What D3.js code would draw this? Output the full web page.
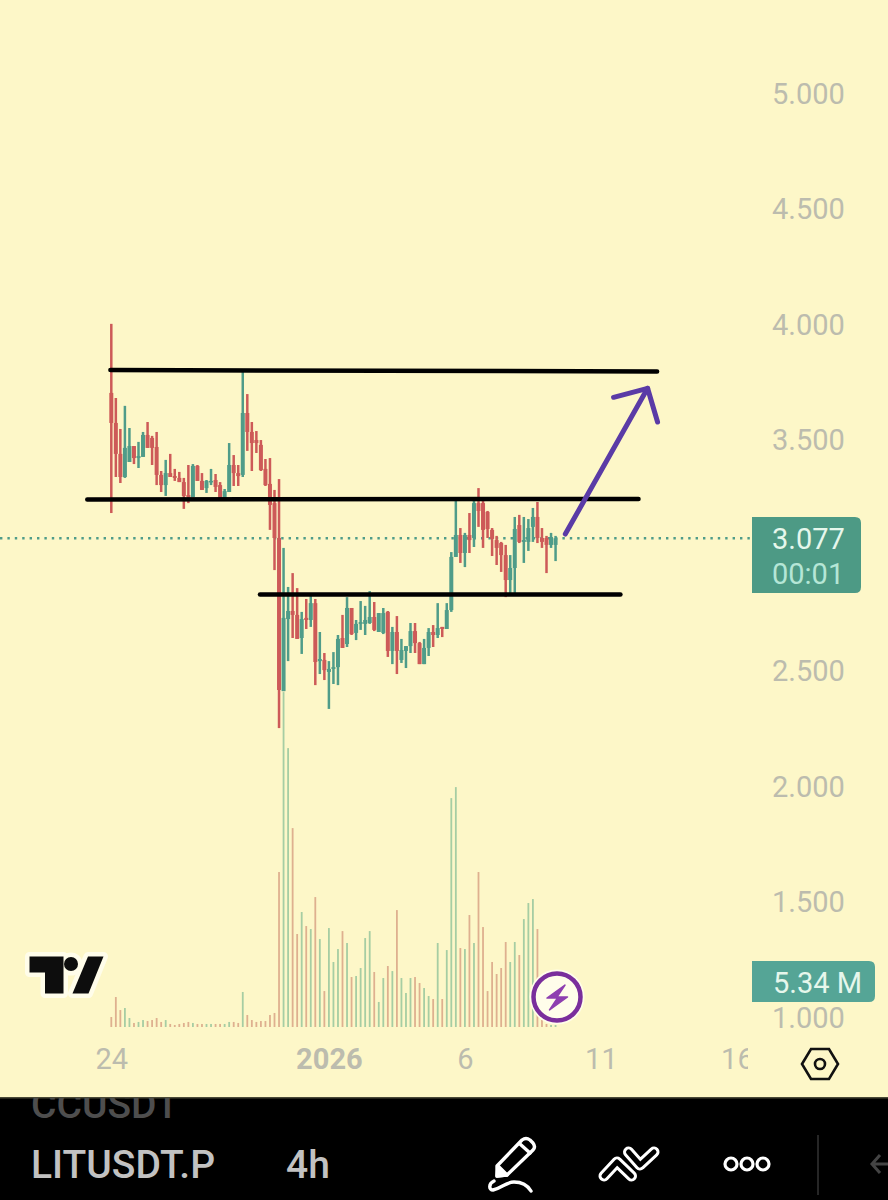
<!DOCTYPE html>
<html>
<head>
<meta charset="utf-8">
<script src="https://cdn.jsdelivr.net/npm/d3@7"></script>
<style>
    html, body { margin: 0; padding: 0; background: #fdf7c8; }
    svg { display: block; font-family: Roboto, sans-serif; }
</style>
</head>
<body>
<svg></svg>
<script>
// 4h candles of LITUSDT.P
const candleOpen = [3.706,3.576,3.442,3.342,3.407,3.476,3.424,3.429,3.524,3.511,3.472,3.351,3.307,3.359,3.346,3.338,3.320,3.264,3.255,3.390,3.325,3.294,3.320,3.329,3.307,3.242,3.277,3.394,3.359,3.351,3.619,3.537,3.502,3.481,3.377,3.312,3.229,3.078,2.415,2.727,2.762,2.745,2.645,2.732,2.723,2.796,2.545,2.550,2.498,2.511,2.519,2.645,2.619,2.775,2.667,2.706,2.706,2.710,2.736,2.671,2.667,2.758,2.589,2.671,2.550,2.589,2.610,2.675,2.623,2.532,2.602,2.671,2.658,2.693,2.684,2.766,2.996,3.091,3.013,3.091,3.078,3.229,3.229,3.191,3.113,3.069,3.056,3.004,2.896,2.948,3.134,3.061,3.061,3.126,3.169,3.078,3.078,3.048,3.048]
const candleHigh = [4.005,3.684,3.550,3.650,3.554,3.476,3.494,3.537,3.580,3.520,3.537,3.368,3.416,3.442,3.377,3.364,3.338,3.394,3.398,3.394,3.359,3.329,3.377,3.355,3.320,3.290,3.489,3.437,3.394,3.801,3.701,3.580,3.541,3.502,3.420,3.424,3.286,3.333,3.035,2.866,2.926,2.861,2.758,2.814,2.840,2.814,2.671,2.580,2.545,2.584,2.658,2.745,2.822,2.775,2.723,2.805,2.784,2.848,2.801,2.753,2.775,2.762,2.693,2.740,2.641,2.610,2.710,2.710,2.628,2.641,2.688,2.701,2.796,2.693,2.796,3.017,3.255,3.121,3.100,3.186,3.247,3.294,3.247,3.195,3.121,3.087,3.061,3.048,3.004,3.169,3.178,3.169,3.160,3.208,3.234,3.121,3.087,3.100,3.087]
const candleLow = [3.186,3.342,3.316,3.338,3.407,3.398,3.381,3.429,3.468,3.394,3.307,3.277,3.260,3.342,3.325,3.320,3.204,3.229,3.255,3.325,3.286,3.273,3.307,3.277,3.242,3.238,3.277,3.303,3.303,3.342,3.455,3.368,3.446,3.368,3.303,3.113,2.939,2.255,2.415,2.545,2.645,2.641,2.576,2.684,2.693,2.441,2.489,2.463,2.338,2.446,2.441,2.602,2.606,2.658,2.636,2.680,2.658,2.706,2.675,2.671,2.662,2.563,2.532,2.489,2.537,2.515,2.580,2.580,2.532,2.532,2.567,2.606,2.645,2.649,2.684,2.758,2.996,2.970,2.952,3.013,3.039,3.126,3.035,3.078,3.000,2.961,2.931,2.822,2.840,2.831,3.056,2.970,3.022,3.061,3.056,3.035,2.926,3.035,2.978]
const candleClose = [3.576,3.442,3.342,3.468,3.476,3.424,3.433,3.524,3.468,3.468,3.351,3.307,3.359,3.342,3.338,3.320,3.260,3.255,3.390,3.325,3.286,3.325,3.325,3.299,3.242,3.281,3.394,3.359,3.346,3.619,3.537,3.489,3.489,3.372,3.307,3.221,3.078,2.420,2.732,2.762,2.745,2.641,2.727,2.723,2.796,2.541,2.554,2.506,2.511,2.519,2.641,2.602,2.775,2.662,2.706,2.714,2.723,2.736,2.680,2.753,2.753,2.589,2.671,2.589,2.593,2.610,2.675,2.623,2.532,2.602,2.671,2.658,2.688,2.684,2.766,2.996,3.091,3.013,3.091,3.069,3.229,3.195,3.113,3.117,3.074,3.035,3.004,2.896,2.948,3.117,3.061,3.069,3.121,3.169,3.078,3.061,3.048,3.082,3.077]

// volume in millions, one per candle
const candleVolume = [1.19,3.57,2.02,2.26,1.07,0.48,0.60,0.83,0.71,0.83,1.07,0.60,0.83,0.36,0.24,0.36,0.48,0.60,0.48,0.36,0.36,0.36,0.36,0.36,0.36,0.36,0.60,0.60,0.48,4.17,1.43,0.83,0.60,0.71,0.71,1.43,1.67,18.45,39.87,33.20,23.68,11.07,13.69,12.02,11.66,15.47,10.47,4.28,11.78,7.74,9.28,11.42,10.00,5.95,6.07,7.02,10.59,11.42,6.55,2.98,5.83,7.26,6.66,13.92,5.83,4.05,5.83,5.95,5.24,4.64,3.69,3.33,10.00,3.33,9.16,27.25,28.56,9.40,9.28,13.33,10.00,18.45,11.90,4.28,7.74,6.31,7.02,10.12,7.74,10.12,8.57,12.85,14.76,15.23,11.66,0.83,0.36,0.24,0.24]

const priceTicks = [1, 1.5, 2, 2.5, 3.5, 4, 4.5, 5]
const timeTicks = [0, 48, 78, 108, 138]
const timeLabels = ["24", "2026", "6", "11", "16"]

const lastPrice = 3.077
const lastVolume = "5.34 M"
const countdown = "00:01"

// hand drawn support and resistance lines, [start candle, start price, end candle, end price]
const levelStart = [-0.2, -5.3, 32.8]
const levelEnd = [120.4, 116.3, 112.3]
const levelPriceStart = [3.805, 3.245, 2.833]
const levelPriceEnd = [3.799, 3.247, 2.833]

// purple arrow, tail then tip then the two barbs
const arrowCandle = [100.15, 118.3, 110.8, 120.5]
const arrowPrice = [3.095, 3.726, 3.687, 3.580]

const upColor = "#4f9c89"
const downColor = "#cd5a58"
const upVolume = "#a6cda3"
const downVolume = "#deb08f"
const labelColor = "#bcbcae"

const svg = d3.select("svg")
    .attr("width", 888)
    .attr("height", 1200)

const x = d3.scaleLinear().domain([0, 138]).range([111.3, 736.9])
const y = d3.scaleLinear().domain([1, 5]).range([1018, 94])
const volumeY = d3.scaleLinear().domain([0, 40]).range([1027, 691])

svg.append("rect")
    .attr("width", 888)
    .attr("height", 1200)
    .attr("fill", "#fdf7c8")

const defs = svg.append("defs")
defs.append("clipPath").attr("id", "time-clip")
    .append("rect").attr("x", 0).attr("y", 1040).attr("width", 748).attr("height", 50)
defs.append("clipPath").attr("id", "bar-clip")
    .append("rect").attr("x", 0).attr("y", 1098).attr("width", 888).attr("height", 102)

// price axis
const priceAxis = svg.append("g")
    .attr("transform", "translate(772, 0)")
    .call(d3.axisRight(y).tickValues(priceTicks).tickFormat(d3.format(".3f")).tickSize(0).tickPadding(0))
priceAxis.select(".domain").remove()
priceAxis.selectAll("text")
    .attr("fill", labelColor)
    .style("font-size", "29px")
    .style("font-family", "Roboto, sans-serif")

// time axis
const timeAxis = svg.append("g")
    .attr("clip-path", "url(#time-clip)")
    .append("g")
    .attr("transform", "translate(0, 1048)")
    .call(d3.axisBottom(x).tickValues(timeTicks).tickFormat((d, i) => timeLabels[i]).tickSize(0).tickPadding(0))
timeAxis.select(".domain").remove()
timeAxis.selectAll("text")
    .attr("fill", labelColor)
    .attr("dy", "0.72em")
    .style("font-size", "29px")
    .style("font-family", "Roboto, sans-serif")
    .style("font-weight", (d, i) => timeLabels[i] === "2026" ? "700" : "400")

// last price line
svg.append("line")
    .attr("x1", 0)
    .attr("x2", 752)
    .attr("y1", y(lastPrice))
    .attr("y2", y(lastPrice))
    .attr("stroke", upColor)
    .attr("stroke-width", 2.4)
    .attr("stroke-dasharray", "2.4 5")

// volume
svg.append("g")
    .selectAll("rect")
    .data(candleVolume)
    .join("rect")
    .attr("x", (d, i) => x(i) - 0.9)
    .attr("width", 1.8)
    .attr("y", d => volumeY(d))
    .attr("height", d => volumeY(0) - volumeY(d))
    .attr("fill", (d, i) => candleClose[i] >= candleOpen[i] ? upVolume : downVolume)

// candles
const candleColor = (d, i) => candleClose[i] >= candleOpen[i] ? upColor : downColor

svg.append("g")
    .selectAll("line")
    .data(candleOpen)
    .join("line")
    .attr("x1", (d, i) => x(i))
    .attr("x2", (d, i) => x(i))
    .attr("y1", (d, i) => y(candleHigh[i]))
    .attr("y2", (d, i) => y(candleLow[i]))
    .attr("stroke", candleColor)
    .attr("stroke-width", 2.5)

svg.append("g")
    .selectAll("rect")
    .data(candleOpen)
    .join("rect")
    .attr("x", (d, i) => x(i) - 2)
    .attr("width", 4)
    .attr("y", (d, i) => y(Math.max(d, candleClose[i])))
    .attr("height", (d, i) => Math.max(1.5, Math.abs(y(d) - y(candleClose[i]))))
    .attr("fill", candleColor)

// drawn levels
svg.append("g")
    .selectAll("line")
    .data(levelStart)
    .join("line")
    .attr("x1", d => x(d))
    .attr("x2", (d, i) => x(levelEnd[i]))
    .attr("y1", (d, i) => y(levelPriceStart[i]))
    .attr("y2", (d, i) => y(levelPriceEnd[i]))
    .attr("stroke", "#000")
    .attr("stroke-width", 4.5)
    .attr("stroke-linecap", "round")

// drawn arrow
const arrowLine = d3.line()
    .x(i => x(arrowCandle[i]))
    .y(i => y(arrowPrice[i]))

svg.append("g")
    .attr("fill", "none")
    .attr("stroke", "#5a3ba6")
    .attr("stroke-width", 5)
    .attr("stroke-linecap", "round")
    .attr("stroke-linejoin", "round")
    .selectAll("path")
    .data([[0, 1], [2, 1, 3]])
    .join("path")
    .attr("d", arrowLine)

// last price and volume tags
const tagPath = (left, top, right, bottom) => {
    const p = d3.path()
    p.moveTo(left, top)
    p.lineTo(right - 6, top)
    p.quadraticCurveTo(right, top, right, top + 6)
    p.lineTo(right, bottom - 6)
    p.quadraticCurveTo(right, bottom, right - 6, bottom)
    p.lineTo(left, bottom)
    p.closePath()
    return p.toString()
}

svg.append("path")
    .attr("d", tagPath(752, 517, 861, 593))
    .attr("fill", "#4d9a85")
svg.append("text")
    .attr("x", 772)
    .attr("y", 549)
    .attr("font-size", 29)
    .attr("fill", "#e6f7ec")
    .text(d3.format(".3f")(lastPrice))
svg.append("text")
    .attr("x", 772)
    .attr("y", 584)
    .attr("font-size", 29)
    .attr("fill", "#b5e6d6")
    .text(countdown)

svg.append("path")
    .attr("d", tagPath(752, 961, 875, 1002))
    .attr("fill", "#55a596")
svg.append("text")
    .attr("x", 773)
    .attr("y", 993)
    .attr("font-size", 29)
    .attr("fill", "#e6f7ec")
    .text(lastVolume)

// tradingview logo
const logo = svg.append("g")
logo.selectAll("g")
    .data([{ fill: "#fffdea", stroke: "#fffdea", width: 9 }, { fill: "#0d0d0d", stroke: "none", width: 0 }])
    .join("g")
    .attr("fill", d => d.fill)
    .attr("stroke", d => d.stroke)
    .attr("stroke-width", d => d.width)
    .attr("stroke-linejoin", "round")
    .each(function () {
        d3.select(this).append("path").attr("d", "M29.5 956.5H63.5V993.5H45V972.5H29.5Z")
        d3.select(this).append("circle").attr("cx", 71).attr("cy", 964).attr("r", 7)
        d3.select(this).append("path").attr("d", "M88 956.5H103.5L88.5 993.5H72.5Z")
    })

// lightning badge
svg.append("circle")
    .attr("cx", 557)
    .attr("cy", 997)
    .attr("r", 27.5)
    .attr("fill", "#fffdea")
svg.append("circle")
    .attr("cx", 557)
    .attr("cy", 997)
    .attr("r", 23.5)
    .attr("fill", "#fffdea")
    .attr("stroke", "#7a2e9c")
    .attr("stroke-width", 4.5)
svg.append("path")
    .attr("d", "M565 985L547 998H557.5L549.5 1010L567.5 997H557Z")
    .attr("fill", "#8e3fb0")
    .attr("stroke", "#8e3fb0")
    .attr("stroke-width", 1.5)
    .attr("stroke-linejoin", "round")

// settings hexagon
svg.append("path")
    .attr("d", "M802 1064L811 1049H829L838 1064L829 1079H811Z")
    .attr("fill", "none")
    .attr("stroke", "#111")
    .attr("stroke-width", 2.6)
svg.append("circle")
    .attr("cx", 820)
    .attr("cy", 1064)
    .attr("r", 5)
    .attr("fill", "none")
    .attr("stroke", "#111")
    .attr("stroke-width", 2.6)

// bottom toolbar
const bar = svg.append("g")
bar.append("rect")
    .attr("y", 1097)
    .attr("width", 888)
    .attr("height", 103)
    .attr("fill", "#000")
bar.append("rect")
    .attr("y", 1097)
    .attr("width", 888)
    .attr("height", 1.5)
    .attr("fill", "#4a4a38")
bar.append("text")
    .attr("x", 31)
    .attr("y", 1118)
    .attr("clip-path", "url(#bar-clip)")
    .attr("font-size", 39)
    .attr("font-weight", 500)
    .attr("fill", "#4e4e4e")
    .text("CCUSDT")
bar.append("text")
    .attr("x", 31)
    .attr("y", 1178)
    .attr("font-size", 39)
    .attr("font-weight", 500)
    .attr("fill", "#c2c2c2")
    .text("LITUSDT.P")
bar.append("text")
    .attr("x", 286)
    .attr("y", 1178)
    .attr("font-size", 39)
    .attr("font-weight", 500)
    .attr("fill", "#c2c2c2")
    .text("4h")

const icons = bar.append("g")
    .attr("fill", "none")
    .attr("stroke", "#fff")
    .attr("stroke-width", 3.4)
    .attr("stroke-linejoin", "round")
    .attr("stroke-linecap", "round")
icons.append("path").attr("d", "M497 1176V1166L522 1140Q526 1137 530 1140L533 1143Q536 1147 533 1150L507 1175Z")
icons.append("path").attr("d", "M520 1144L530 1153M498 1166L507 1175")
icons.append("path").attr("d", "M497 1176L498 1167L506 1175Z").attr("fill", "#fff")
icons.append("path").attr("d", "M494 1181C488 1184 489 1190 493 1190C502 1188 506 1182 514 1182C522 1182 528 1186 531 1191")

// chevrons are a white stroke with a black one on top
const chevrons = ["M604 1176L617 1162L631.5 1176", "M628.5 1152L640 1165L654 1152"]
bar.append("g")
    .attr("fill", "none")
    .attr("stroke-linecap", "round")
    .attr("stroke-linejoin", "round")
    .selectAll("path")
    .data([
        { d: chevrons[1], stroke: "#fff", width: 11 },
        { d: chevrons[1], stroke: "#000", width: 5 },
        { d: chevrons[0], stroke: "#fff", width: 11 },
        { d: chevrons[0], stroke: "#000", width: 5 }
    ])
    .join("path")
    .attr("d", d => d.d)
    .attr("stroke", d => d.stroke)
    .attr("stroke-width", d => d.width)

bar.append("g")
    .selectAll("circle")
    .data([731, 747, 763])
    .join("circle")
    .attr("cx", d => d)
    .attr("cy", 1164)
    .attr("r", 6)
    .attr("fill", "none")
    .attr("stroke", "#fff")
    .attr("stroke-width", 3.2)

bar.append("line")
    .attr("x1", 818)
    .attr("x2", 818)
    .attr("y1", 1135)
    .attr("y2", 1195)
    .attr("stroke", "#333")
    .attr("stroke-width", 1.5)

bar.append("path")
    .attr("d", "M880 1155L872 1164L880 1173M873 1164H888")
    .attr("fill", "none")
    .attr("stroke", "#444")
    .attr("stroke-width", 3)
</script>
</body>
</html>
